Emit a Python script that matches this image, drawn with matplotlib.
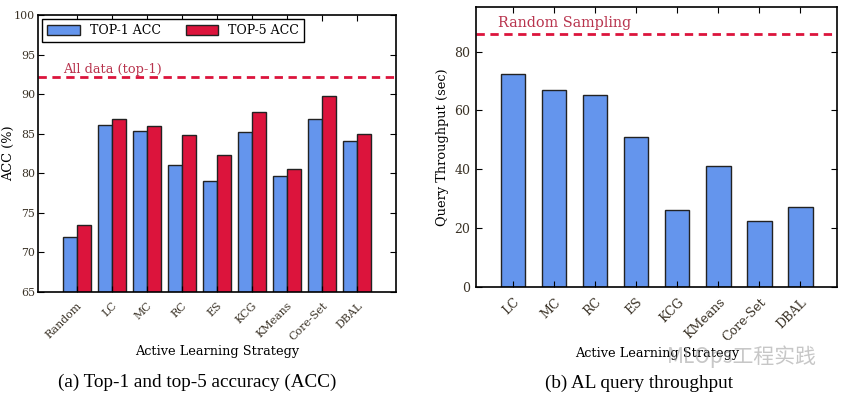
import matplotlib
matplotlib.use("Agg")
import matplotlib.pyplot as plt
import numpy as np

plt.rcParams["font.family"] = ["DejaVu Serif"]

strategies_a = ["Random", "LC", "MC", "RC", "ES", "KCG", "KMeans", "Core-Set", "DBAL"]
top1_acc = [72.0, 86.1, 85.4, 81.1, 79.0, 85.2, 79.7, 86.9, 84.1]
top5_acc = [73.5, 86.9, 86.0, 84.8, 82.3, 87.7, 80.5, 89.8, 85.0]
all_data_top1 = 92.2

strategies_b = ["LC", "MC", "RC", "ES", "KCG", "KMeans", "Core-Set", "DBAL"]
throughput = [72.2, 66.8, 65.4, 51.1, 26.1, 41.0, 22.4, 27.4]
random_sampling = 86.0

blue = "#6495ED"
red = "#DC143C"
edge = "#222222"
note_color = "#b8334d"
tick_color = "#3a3226"

fig = plt.figure(figsize=(8.43, 3.95), dpi=100, facecolor="white")

# (a) accuracy
ax1 = fig.add_axes([38/843, 103/395, 358/843, 277/395])
x = np.arange(len(strategies_a))
w = 0.4
ax1.bar(x - w/2, top1_acc, w, color=blue, edgecolor=edge, linewidth=1, label="TOP-1 ACC")
ax1.bar(x + w/2, top5_acc, w, color=red, edgecolor=edge, linewidth=1, label="TOP-5 ACC")
ax1.axhline(all_data_top1, color=red, linestyle=(0, (3, 2)), linewidth=2)
ax1.text(0.07, 0.79, "All data (top-1)", transform=ax1.transAxes, color=note_color, fontsize=9.3)
ax1.set_ylim(65, 100)
ax1.set_xlim(-1.1, 9.1)
ax1.set_yticks(range(65, 101, 5))
ax1.set_xticks(x)
ax1.set_xticklabels(strategies_a, rotation=45, ha="right", rotation_mode="anchor")
ax1.tick_params(direction="in", top=True, right=True, labelsize=7.9, length=4,
                labelcolor=tick_color)
ax1.tick_params(axis="y", pad=2)
ax1.tick_params(axis="x", pad=6)
ax1.set_ylabel("ACC (%)", fontsize=9.3, va="center")
ax1.yaxis.set_label_coords(-29/358, 0.5)
ax1.set_xlabel("Active Learning Strategy", fontsize=9.3, labelpad=2)
leg = ax1.legend(loc="upper left", ncol=2, fontsize=9, fancybox=False, edgecolor="black",
                 framealpha=1, columnspacing=2.0, handlelength=2.6, handleheight=0.9,
                 borderaxespad=0.35)
leg.get_frame().set_linewidth(1)

# (b) throughput
ax2 = fig.add_axes([476/843, 107.7/395, 361.3/843, 280/395])
xb = np.arange(len(strategies_b))
ax2.bar(xb, throughput, 0.6, color=blue, edgecolor=edge, linewidth=1)
ax2.axhline(random_sampling, color=red, linestyle=(0, (3, 2)), linewidth=2)
ax2.text(0.06, 0.93, "Random Sampling", transform=ax2.transAxes, color=note_color, fontsize=10.4)
ax2.set_ylim(0, 95)
ax2.set_xlim(-0.9, 7.9)
ax2.set_yticks(range(0, 81, 20))
ax2.set_xticks(xb)
ax2.set_xticklabels(strategies_b, rotation=45, ha="right", rotation_mode="anchor")
ax2.tick_params(direction="in", top=True, right=True, labelsize=9, length=4, pad=4,
                labelcolor=tick_color)
ax2.tick_params(axis="x", pad=6)
ax2.set_ylabel("Query Throughput (sec)", fontsize=9.3, labelpad=4)
ax2.set_xlabel("Active Learning Strategy", fontsize=9.3, labelpad=2)

for ax in (ax1, ax2):
    for s in ax.spines.values():
        s.set_linewidth(1.2)

fig.text(197/843, 1 - 382/395, "(a) Top-1 and top-5 accuracy (ACC)", ha="center", va="center",
         fontsize=13.8, family="Liberation Serif")
fig.text(639/843, 1 - 383/395, "(b) AL query throughput", ha="center", va="center",
         fontsize=13.8, family="Liberation Serif")
fig.text(667/843, 1 - 357/395, "MLOps工程实践", ha="left", va="center", fontsize=15,
         color="#999999", alpha=0.55, family=["Noto Sans CJK SC", "DejaVu Sans"])

fig.savefig("out.png", dpi=100)
